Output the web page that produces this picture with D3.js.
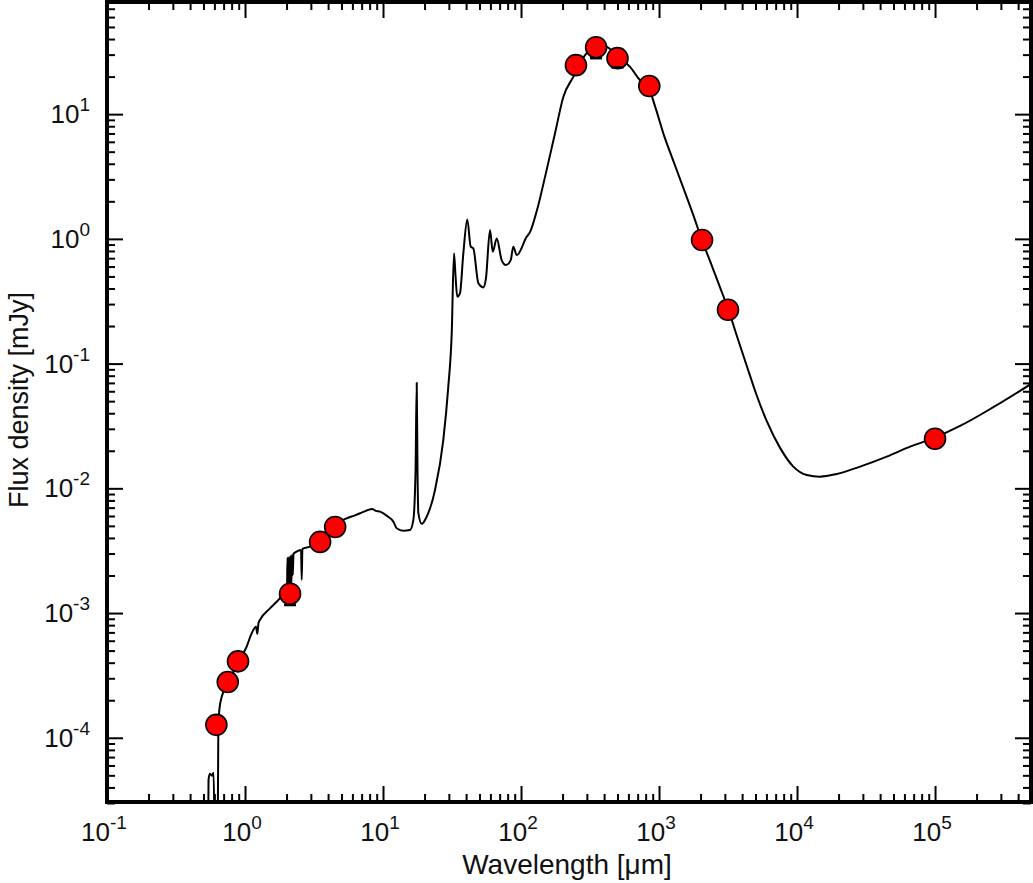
<!DOCTYPE html>
<html>
<head>
<meta charset="utf-8">
<script src="https://cdn.jsdelivr.net/npm/d3@7"></script>
<style>
  body { margin: 0; background: #fff; }
  svg { display: block; font-family: "Liberation Sans", Arial, Helvetica, sans-serif; }
</style>
</head>
<body>
<div id="chart"></div>
<script>
// model SED (wavelength in micron, flux in mJy)
var modelWave = [0.540, 0.544, 0.557, 0.577, 0.592, 0.607, 0.632, 0.640, 0.643, 0.652, 0.678, 0.757, 0.899,
  1.028, 1.119, 1.202, 1.228, 1.253, 1.285, 1.517, 1.794, 1.950, 2.015, 2.032, 2.060, 2.084, 2.112, 2.138,
  2.166, 2.191, 2.220, 2.245, 2.342, 2.547, 2.576, 2.606, 2.958, 3.494, 3.93, 4.365, 4.88, 5.46, 6.27, 7.05,
  7.79, 8.32, 8.89, 9.51, 10.69, 11.88, 12.57, 14.03, 15.70, 16.59, 17.21, 17.55, 17.78, 18.03, 19.07, 20.74,
  23.81, 27.35, 29.72, 31.47, 32.68, 33.5, 34.5, 36.1, 38.2, 40.8, 43.2, 45.1, 49.1, 53.3, 55.7, 59.6, 62.4,
  66.7, 72.4, 77.8, 84.2, 87.9, 93.1, 109.9, 116.2, 130.0, 149.3, 176.2, 202.8, 239.3, 291.1, 349.3, 417.8,
  496.6, 616.6, 727.8, 847, 935, 1105, 1202, 1493, 1824, 2037, 2344, 2767, 3177, 3656, 4325, 5105, 6026,
  7534, 9397, 11750, 14680, 19400, 28640, 44670, 65920, 98400, 151700, 264300, 500000];
var modelFlux = [1e-5, 4.60e-5, 5.15e-5, 4.96e-5, 5.25e-5, 1e-5, 1e-5, 9.64e-5, 1.27e-4, 1.68e-4, 2.13e-4, 2.77e-4, 4.09e-4,
  5.39e-4, 6.90e-4, 7.75e-4, 6.81e-4, 8.34e-4, 8.83e-4, 1.09e-3, 1.32e-3, 1.49e-3, 1.59e-3, 2.77e-3, 1.53e-3, 2.82e-3, 1.59e-3, 2.87e-3,
  1.68e-3, 2.92e-3, 2.02e-3, 2.98e-3, 3.09e-3, 3.21e-3, 1.85e-3, 3.27e-3, 3.41e-3, 3.79e-3, 4.23e-3, 4.64e-3, 5.38e-3, 5.75e-3, 6.07e-3, 6.41e-3,
  6.71e-3, 6.84e-3, 6.59e-3, 6.50e-3, 6.01e-3, 5.41e-3, 4.79e-3, 4.58e-3, 4.64e-3, 5.58e-3, 0.01403, 0.0703, 0.01403, 6.35e-3, 5.19e-3, 5.93e-3,
  9.71e-3, 0.02443, 0.0653, 0.175, 0.766, 0.513, 0.344, 0.366, 0.766, 1.432, 0.865, 0.839, 0.440, 0.408, 0.482, 1.178, 0.788,
  1.009, 0.676, 0.617, 0.676, 0.865, 0.741, 1.040, 1.133, 1.670, 3.14, 7.00, 13.8, 19.9, 29.7, 35.1, 34.6,
  29.2, 23.9, 18.7, 15.9, 11.6, 6.39, 4.96, 2.60, 1.415, 0.991, 0.663, 0.408, 0.272, 0.168, 0.0957, 0.0555, 0.0347,
  0.0211, 0.01493, 0.01280, 0.01241, 0.01303, 0.01493, 0.01795, 0.02158, 0.02535, 0.03162, 0.0447, 0.0690];

// photometry
var photWave = [0.62, 0.75, 0.89, 2.12, 3.5, 4.5, 250, 350, 500, 850, 2050, 3160, 100000];
var photFlux = [1.27e-4, 2.8e-4, 4.1e-4, 1.43e-3, 3.72e-3, 4.9e-3, 24.7, 34.4, 28.1, 16.8, 0.98, 0.27, 0.025];
var photErr = [0, 0, 0, 2.7e-4, 0, 0, 0, 6.3, 4.4, 0, 0, 0, 0];

// axes
var xDecades = [1e-1, 1e0, 1e1, 1e2, 1e3, 1e4, 1e5];
var xExps = ['-1', '0', '1', '2', '3', '4', '5'];
var yDecades = [1e-4, 1e-3, 1e-2, 1e-1, 1e0, 1e1];
var yExps = ['-4', '-3', '-2', '-1', '0', '1'];

var W = 1033, H = 883;
var pLeft = 107, pRight = 1031, pTop = 2, pBottom = 802;

var svg = d3.select('#chart').append('svg')
  .attr('width', W)
  .attr('height', H);

var x = d3.scaleLog().domain([0.1, 5e5]).range([pLeft, 1031.5]);
var y = d3.scaleLog().domain([3e-5, 80]).range([803, 1.5]);

function minors(decades, lo, hi) {
  var arr = [];
  decades.concat([decades[0] / 10, decades[decades.length - 1] * 10]).forEach(function(d) {
    for (var k = 2; k <= 9; k++) {
      var v = d * k;
      if (v > lo && v < hi) arr.push(v);
    }
  });
  return arr;
}
var xMinor = minors(xDecades, 0.1, 5e5);
var yMinor = minors(yDecades, 3e-5, 80);

svg.append('defs').append('clipPath').attr('id', 'clip')
  .append('rect')
  .attr('x', pLeft).attr('y', pTop)
  .attr('width', pRight - pLeft).attr('height', pBottom - pTop);

// model curve
var line = d3.line()
  .curve(d3.curveMonotoneX)
  .x(function(d) { return x(d[0]); })
  .y(function(d) { return y(d[1]); });

svg.append('path')
  .datum(modelWave.map(function(w, i) { return [w, modelFlux[i]]; }))
  .attr('clip-path', 'url(#clip)')
  .attr('fill', 'none')
  .attr('stroke', '#000')
  .attr('stroke-width', 2)
  .attr('stroke-linejoin', 'round')
  .attr('d', line);

// photometric points
var pts = photWave.map(function(w, i) { return {w: w, f: photFlux[i], e: photErr[i]}; });

svg.append('g').selectAll('circle')
  .data(pts)
  .enter().append('circle')
  .attr('cx', function(d) { return x(d.w); })
  .attr('cy', function(d) { return y(d.f); })
  .attr('r', 10.5)
  .attr('fill', '#f00')
  .attr('stroke', '#000')
  .attr('stroke-width', 1.6);

var eb = svg.append('g').attr('stroke', '#000').attr('stroke-width', 2.5);
pts.filter(function(d) { return d.e > 0; }).forEach(function(d) {
  var cx = x(d.w), lo = y(d.f - d.e);
  eb.append('line').attr('x1', cx - 6).attr('x2', cx + 6).attr('y1', lo).attr('y2', lo);
});

// ticks on all four sides, pointing inward
function addTicks(axisFn, scale, values, size, transform) {
  var g = svg.append('g')
    .attr('transform', transform)
    .call(axisFn(scale).tickValues(values).tickSizeInner(size).tickSizeOuter(0).tickFormat(''));
  g.select('.domain').remove();
  g.selectAll('.tick line').attr('stroke', '#000').attr('stroke-width', 2);
}
addTicks(d3.axisBottom, x, xDecades, -16, 'translate(0,' + pBottom + ')');
addTicks(d3.axisBottom, x, xMinor, -8, 'translate(0,' + pBottom + ')');
addTicks(d3.axisTop, x, xDecades, -16, 'translate(0,' + pTop + ')');
addTicks(d3.axisTop, x, xMinor, -8, 'translate(0,' + pTop + ')');
addTicks(d3.axisLeft, y, yDecades, -16, 'translate(' + pLeft + ',0)');
addTicks(d3.axisLeft, y, yMinor, -8, 'translate(' + pLeft + ',0)');
addTicks(d3.axisRight, y, yDecades, -16, 'translate(' + pRight + ',0)');
addTicks(d3.axisRight, y, yMinor, -8, 'translate(' + pRight + ',0)');

// frame
svg.append('rect')
  .attr('x', pLeft).attr('y', pTop)
  .attr('width', pRight - pLeft).attr('height', pBottom - pTop)
  .attr('fill', 'none')
  .attr('stroke', '#000')
  .attr('stroke-width', 4);

// tick labels
xDecades.forEach(function(v, i) {
  var t = svg.append('text')
    .attr('x', x(v) - 3).attr('y', 841)
    .attr('text-anchor', 'middle')
    .attr('font-size', 26)
    .attr('fill', '#111');
  t.append('tspan').text('10');
  t.append('tspan').attr('dy', -12).attr('font-size', 19).text(xExps[i]);
});
yDecades.forEach(function(v, i) {
  var t = svg.append('text')
    .attr('x', 90).attr('y', y(v) + 9)
    .attr('text-anchor', 'end')
    .attr('font-size', 26)
    .attr('fill', '#111');
  t.append('tspan').text('10');
  t.append('tspan').attr('dy', -12).attr('font-size', 19).text(yExps[i]);
});

// axis titles
svg.append('text')
  .attr('x', 567).attr('y', 874)
  .attr('text-anchor', 'middle')
  .attr('font-size', 28)
  .attr('fill', '#111')
  .text('Wavelength [\u03bcm]');

svg.append('text')
  .attr('transform', 'translate(28,400) rotate(-90)')
  .attr('text-anchor', 'middle')
  .attr('font-size', 27)
  .attr('fill', '#111')
  .text('Flux density [mJy]');
</script>
</body>
</html>
